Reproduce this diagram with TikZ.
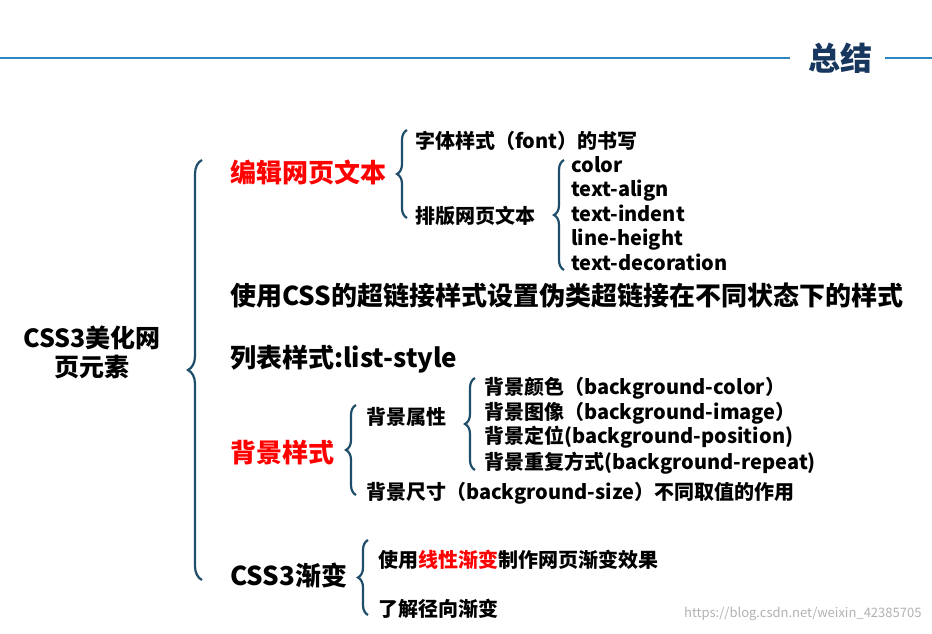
\documentclass[tikz,border=0pt]{standalone}
\usepackage{fontspec}
\setmainfont{Noto Sans CJK SC}
\usetikzlibrary{decorations.pathreplacing}
\definecolor{hb}{HTML}{2E86C1}
\definecolor{tb}{HTML}{17375E}
\definecolor{br}{HTML}{1F4E6B}
\tikzset{
 big/.style={anchor=west,font=\bfseries\fontsize{26}{28}\selectfont,inner sep=0,text height=19pt,text depth=5pt},
 sm/.style={anchor=west,font=\bfseries\fontsize{20}{22}\selectfont,inner sep=0,text height=15pt,text depth=4pt},
 brc/.style={draw=br,line width=2.2pt,decorate,decoration={brace,amplitude=#1}},
 brc/.default=10pt
}
\begin{document}
\begin{tikzpicture}[x=1pt,y=-1pt]
\useasboundingbox (0,0) rectangle (932,634);
\fill[white] (0,0) rectangle (932,634);
\coordinate (l1) at (0,58); \coordinate (l2) at (790,58);
\coordinate (l3) at (885,58); \coordinate (l4) at (932,58);
\draw[hb,line width=1.5pt] (l1)--(l2) (l3)--(l4);
\node[font=\bfseries\fontsize{32}{34}\selectfont,text=tb] (title) at (840,58) {总结};
\node[align=center,font=\bfseries\fontsize{25}{29}\selectfont] (root) at (92,352) {CSS3美化网\\页元素};
\coordinate (b1a) at (202,580); \coordinate (b1b) at (202,160);
\draw[brc=14pt] (b1a)--(b1b);
\node[big,text=red] (a) at (230,175) {编辑网页文本};
\node[big] (b) at (230,298) {使用CSS的超链接样式设置伪类超链接在不同状态下的样式};
\node[big] (c) at (230,360) {列表样式:list-style};
\node[big,text=red] (d) at (230,455) {背景样式};
\node[big] (e) at (230,578) {CSS3渐变};
\draw[brc] (407,218)--(407,130);
\node[sm] (a1) at (415,143) {字体样式（font）的书写};
\node[sm] (a2) at (415,218) {排版网页文本};
\draw[brc] (564,270)--(564,160);
\foreach \t/\y/\n in {color/167/p1,text-align/191/p2,text-indent/216/p3,line-height/240/p4,text-decoration/265/p5}
  \node[sm] (\n) at (571,\y) {\t};
\draw[brc] (356,495)--(356,405);
\node[sm] (d1) at (366,419) {背景属性};
\node[sm] (d2) at (366,494) {背景尺寸（background-size）不同取值的作用};
\draw[brc] (475,470)--(475,378);
\node[sm] (q1) at (484,389) {背景颜色（background-color）};
\node[sm] (q2) at (484,414) {背景图像（background-image）};
\node[sm] (q3) at (484,438) {背景定位(background-position)};
\node[sm] (q4) at (484,464) {背景重复方式(background-repeat)};
\draw[brc] (368,615)--(368,540);
\node[sm] (e1) at (378,562) {使用\textcolor{red}{线性渐变}制作网页渐变效果};
\node[sm] (e2) at (378,611) {了解径向渐变};
\node[anchor=east,text=gray!60,font=\fontsize{13}{14}\selectfont] (wm) at (925,614) {https://blog.csdn.net/weixin\_42385705};
\end{tikzpicture}
\end{document}
